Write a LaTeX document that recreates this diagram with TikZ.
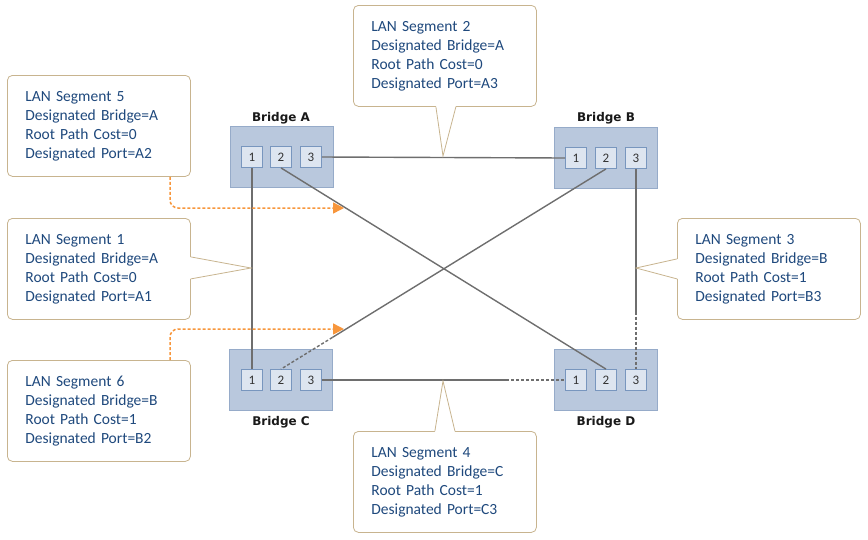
\documentclass[tikz,border=0pt]{standalone}
\usepackage{fontspec}
\setmainfont{Carlito}
\newfontfamily\bridgefont{DejaVu Sans}
\usetikzlibrary{arrows.meta,calc}
\definecolor{bridgefill}{RGB}{185,200,221}
\definecolor{bridgeborder}{RGB}{150,171,201}
\definecolor{portfill}{RGB}{221,229,240}
\definecolor{portborder}{RGB}{120,150,190}
\definecolor{callborder}{RGB}{200,180,143}
\definecolor{textblue}{RGB}{31,73,125}
\definecolor{linkgray}{RGB}{110,110,110}
\definecolor{orng}{RGB}{247,150,60}
\begin{document}
\begin{tikzpicture}[x=1pt,y=-1pt,
  bridge/.style={draw=bridgeborder, fill=bridgefill, line width=0.8pt, minimum width=103pt, minimum height=61pt, inner sep=0pt},
  port/.style={draw=portborder, fill=portfill, line width=0.8pt, minimum size=21pt, inner sep=0pt, font=\fontsize{13}{13}\selectfont, text=black!80},
  blabel/.style={font=\bridgefont\bfseries\fontsize{12}{12}\selectfont, anchor=base, text=black!90},
  callout/.style={draw=callborder, fill=white, rounded corners=5pt, line width=0.8pt, minimum width=183pt, minimum height=101pt, text width=147pt, inner xsep=18pt, inner ysep=0pt, align=left, anchor=north west, font=\fontsize{15.5}{19}\selectfont, text=textblue},
  pointer/.style={draw=callborder, fill=white, line width=0.8pt},
  link/.style={draw=linkgray, line width=1.4pt},
  dlink/.style={link, dash pattern=on 3pt off 2pt},
  orangearrow/.style={draw=orng, line width=1.5pt, dash pattern=on 3pt off 2pt, rounded corners=8pt, -{Triangle[length=11pt,width=11pt]}}
]
\useasboundingbox (0,0) rectangle (868,539);

% bridges
\node[bridge] (bA) at (281.5,157) {};
\node[bridge] (bB) at (606,157.5) {};
\node[bridge] (bC) at (281,379.5) {};
\node[bridge] (bD) at (606,379.5) {};
\node[blabel] (lA) at (281,121) {Bridge A};
\node[blabel] (lB) at (606,121) {Bridge B};
\node[blabel] (lC) at (281,425) {Bridge C};
\node[blabel] (lD) at (606,425) {Bridge D};

% ports
\node[port] (A1) at (252,157) {1};
\node[port] (A2) at (281,157) {2};
\node[port] (A3) at (311,157) {3};
\node[port] (B1) at (576,158) {1};
\node[port] (B2) at (606,158) {2};
\node[port] (B3) at (636,158) {3};
\node[port] (C1) at (252,380) {1};
\node[port] (C2) at (281,380) {2};
\node[port] (C3) at (311,380) {3};
\node[port] (D1) at (576,380) {1};
\node[port] (D2) at (606,380) {2};
\node[port] (D3) at (636,380) {3};

% links
\draw[link] (A1.south) -- (C1.north);
\draw[link] (A3.east) -- (B1.west);
\draw[link] (A2.south) -- (D2.north);
\coordinate (s62) at ($(B2.south)!0.842!(C2.north)$);
\draw[link] (B2.south) -- (s62);
\draw[dlink] (s62) -- (C2.north);
\coordinate (s3) at ($(B3.south)!0.713!(D3.north)$);
\draw[link] (B3.south) -- (s3);
\draw[dlink] (s3) -- (D3.north);
\coordinate (s4) at ($(C3.east)!0.758!(D1.west)$);
\draw[link] (C3.east) -- (s4);
\draw[dlink] (s4) -- (D1.west);

% callouts
\node[callout] (L5) at (7,75) {LAN Segment 5\\Designated Bridge=A\\Root Path Cost=0\\Designated Port=A2};
\node[callout] (L1) at (7,218) {LAN Segment 1\\Designated Bridge=A\\Root Path Cost=0\\Designated Port=A1};
\node[callout] (L6) at (7,360) {LAN Segment 6\\Designated Bridge=B\\Root Path Cost=1\\Designated Port=B2};
\node[callout] (L2) at (353,5) {LAN Segment 2\\Designated Bridge=A\\Root Path Cost=0\\Designated Port=A3};
\node[callout] (L3) at (677,218) {LAN Segment 3\\Designated Bridge=B\\Root Path Cost=1\\Designated Port=B3};
\node[callout] (L4) at (353,431) {LAN Segment 4\\Designated Bridge=C\\Root Path Cost=1\\Designated Port=C3};

% pointers
\coordinate (t1) at (251,268);
\coordinate (t2) at (443,156);
\coordinate (t3) at (636,268);
\coordinate (t4) at (443,381);
\fill[white] ($(L1.east)+(-1,-12)$) -- (t1) -- ($(L1.east)+(-1,10)$) -- cycle;
\draw[callborder, line width=0.8pt] ($(L1.east)+(0,-12)$) -- (t1) -- ($(L1.east)+(0,10)$);
\fill[white] ($(L2.south)+(-9,-1)$) -- (t2) -- ($(L2.south)+(11,-1)$) -- cycle;
\draw[callborder, line width=0.8pt] ($(L2.south)+(-9,0)$) -- (t2) -- ($(L2.south)+(11,0)$);
\fill[white] ($(L3.west)+(1,-10)$) -- (t3) -- ($(L3.west)+(1,10)$) -- cycle;
\draw[callborder, line width=0.8pt] ($(L3.west)+(0,-10)$) -- (t3) -- ($(L3.west)+(0,10)$);
\fill[white] ($(L4.north)+(-10,1)$) -- (t4) -- ($(L4.north)+(10,1)$) -- cycle;
\draw[callborder, line width=0.8pt] ($(L4.north)+(-10,0)$) -- (t4) -- ($(L4.north)+(10,0)$);

% orange arrows
\coordinate (o5) at ($(L5.south west)+(163,0)$);
\coordinate (a5) at (344,208);
\draw[orangearrow] (o5) |- (a5);
\coordinate (o6) at ($(L6.north west)+(163,0)$);
\coordinate (a6) at (344,329);
\draw[orangearrow] (o6) |- (a6);
\end{tikzpicture}
\end{document}
